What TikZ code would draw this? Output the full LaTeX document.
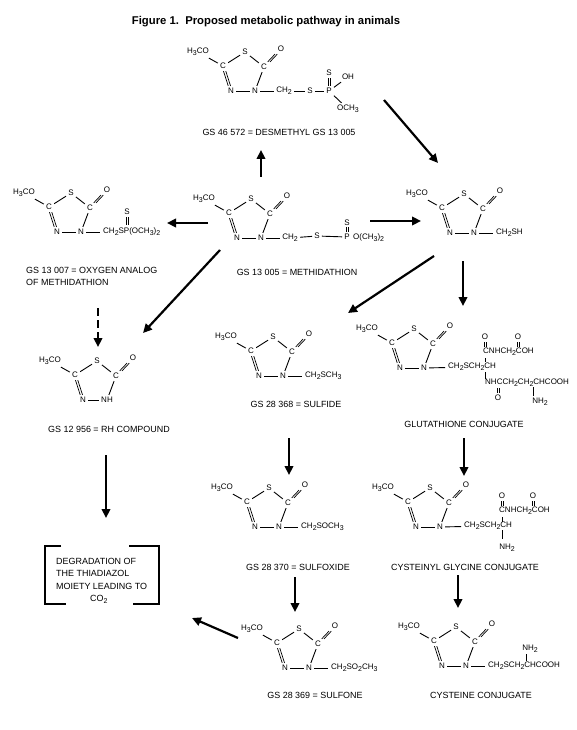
\documentclass[tikz,border=0pt]{standalone}
\usepackage{fontspec}
\setmainfont{Liberation Sans}
\usetikzlibrary{arrows.meta, positioning}
\newcommand{\low}[1]{\raisebox{-2pt}{\fontsize{7}{8}\selectfont #1}}
\newcommand{\dblbond}[2]{
  \draw[line width=0.7pt, transform canvas={xshift=-1.15pt}] (#1) -- (#2);
  \draw[line width=0.7pt, transform canvas={xshift=1.15pt}] (#1) -- (#2);
}
\begin{document}
\begin{tikzpicture}[
    x=1pt, y=-1pt,
    atom/.style={inner sep=2.1pt, font=\fontsize{8}{9}\selectfont},
    chain/.style={atom, anchor=west, inner ysep=0pt, inner xsep=3pt, xshift=-3pt},
    caption/.style={inner sep=0pt, font=\fontsize{8.95}{12.5}\selectfont},
    bond/.style={line width=0.9pt},
    arr/.style={-{Triangle[length=9pt, width=8.5pt]}, line width=2.2pt},
    ring/.pic={
      \node[atom] (-n) at (0,0) {#1};
      \node[atom] (-m) at (-24,0) {N};
      \node[atom] (-cl) at (-32,-25) {C};
      \node[atom] (-cr) at (9,-24) {C};
      \node[atom] (-s) at (-10,-39) {S};
      \node[atom] (-o) at (26,-42) {O};
      \node[atom] (-co) at (-57,-39) {H\low{3}CO};
      \draw[bond] (-co) -- (-cl);
      \draw[bond] (-cl) -- (-s);
      \draw[bond] (-s) -- (-cr);
      \dblbond{-cr}{-o}
      \draw[bond] (-cr) -- (-n);
      \dblbond{-cl}{-m}
      \draw[bond] (-m) -- (-n);
    }
  ]

  \useasboundingbox (0,0) rectangle (577,730);
  \fill[white] (0,0) rectangle (577,730);

  \node[inner sep=0pt, font=\bfseries\fontsize{11.3}{13}\selectfont] (title) at (266,22)
    {Figure 1.\ \ Proposed metabolic pathway in animals};

  \pic (a) at (255,91) {ring=N};
  \node[atom] (ach) at (284,91) {CH\low{2}};
  \node[atom] (as) at (310,91) {S};
  \node[atom] (ap) at (329,91) {P};
  \node[atom] (ats) at (329,73) {S};
  \node[atom] (aoh) at (348,77) {OH};
  \node[atom] (aome) at (348,109) {OCH\low{3}};
  \draw[bond] (a-n) -- (ach);
  \draw[bond] (ach) -- (as);
  \draw[bond] (as) -- (ap);
  \dblbond{ap}{ats}
  \draw[bond] (ap) -- (aoh);
  \draw[bond] (ap) -- (aome);
  \node[caption] (alabel) at (279,132) {GS 46 572 = DESMETHYL GS 13 005};

  \pic (b) at (261,238) {ring=N};
  \node[atom] (bch) at (290,238) {CH\low{2}};
  \node[atom] (bs) at (317,236) {S};
  \node[atom] (bp) at (347,237) {P};
  \node[atom, inner sep=1pt] (bts) at (347,223) {S};
  \node[chain] (bome) at (353,238) {O(CH\low{3})\low{2}};
  \draw[bond] (b-n) -- (bch);
  \draw[bond] (bch) -- (bs);
  \draw[bond] (bs) -- (bp);
  \dblbond{bp}{bts}
  \node[caption] (blabel) at (297,272) {GS 13 005 = METHIDATHION};

  \pic (c) at (81,232) {ring=N};
  \node[chain] (cch) at (103,232) {CH\low{2}SP(OCH\low{3})\low{2}};
  \node[atom] (cts) at (127,212) {S};
  \coordinate (cp) at (127,225);
  \draw[bond] (c-n) -- (cch);
  \dblbond{cts}{cp}
  \node[caption, align=left, anchor=west] (clabel) at (26,276.5) {GS 13 007 = OXYGEN ANALOG\\OF METHIDATHION};

  \pic (d) at (474,233) {ring=N};
  \node[chain] (dch) at (496,233) {CH\low{2}SH};
  \draw[bond] (d-n) -- (dch);

  \pic (e) at (107,400) {ring=NH};
  \node[caption] (elabel) at (109,429) {GS 12 956 = RH COMPOUND};

  \pic (f) at (283,376) {ring=N};
  \node[chain] (fch) at (305,376) {CH\low{2}SCH\low{3}};
  \draw[bond] (f-n) -- (fch);
  \node[caption] (flabel) at (296,404) {GS 28 368 = SULFIDE};

  \pic (g) at (424,368) {ring=N};
  \node[chain] (gch) at (448,367) {CH\low{2}SCH\low{2}CH};
  \node[chain] (gup) at (483,352) {CNHCH\low{2}COH};
  \node[chain] (gdown) at (485,383) {NHCCH\low{2}CH\low{2}CHCOOH};
  \node[atom] (gox) at (485,337) {O};
  \node[atom] (goy) at (518,337) {O};
  \node[atom] (goz) at (498,398) {O};
  \node[atom] (gnh) at (540,402) {NH\low{2}};
  \coordinate (gc) at (485,347);
  \coordinate (gd) at (518,347);
  \coordinate (ge) at (498,388);
  \coordinate (gf) at (533,387);
  \coordinate (gg) at (533,396);
  \coordinate (gh) at (485,358);
  \coordinate (gi) at (485,362);
  \coordinate (gj) at (485,372);
  \coordinate (gk) at (485,379);
  \draw[bond] (g-n) -- (gch);
  \dblbond{gox}{gc}
  \dblbond{goy}{gd}
  \dblbond{goz}{ge}
  \draw[bond] (gf) -- (gg);
  \draw[bond] (gh) -- (gi);
  \draw[bond] (gj) -- (gk);
  \node[caption] (glabel) at (464,424) {GLUTATHIONE CONJUGATE};

  \pic (h) at (279,527) {ring=N};
  \node[chain] (hch) at (301,527) {CH\low{2}SOCH\low{3}};
  \draw[bond] (h-n) -- (hch);
  \node[caption] (hlabel) at (298,567) {GS 28 370 = SULFOXIDE};

  \pic (i) at (440,527) {ring=N};
  \node[chain] (ich) at (464,526) {CH\low{2}SCH\low{2}CH};
  \node[chain] (iup) at (499,511) {CNHCH\low{2}COH};
  \node[atom] (iox) at (502,496) {O};
  \node[atom] (ioy) at (533,496) {O};
  \node[atom] (inh) at (507,548) {NH\low{2}};
  \coordinate (ic) at (502,506);
  \coordinate (id) at (533,506);
  \coordinate (ie) at (502,517);
  \coordinate (if) at (502,522);
  \coordinate (ig) at (502,530);
  \coordinate (ih) at (502,539);
  \draw[bond] (i-n) -- (ich);
  \dblbond{iox}{ic}
  \dblbond{ioy}{id}
  \draw[bond] (ie) -- (if);
  \draw[bond] (ig) -- (ih);
  \node[caption] (ilabel) at (465,567) {CYSTEINYL GLYCINE CONJUGATE};

  \pic (j) at (309,668) {ring=N};
  \node[chain] (jch) at (331,668) {CH\low{2}SO\low{2}CH\low{3}};
  \draw[bond] (j-n) -- (jch);
  \node[caption] (jlabel) at (315,695) {GS 28 369 = SULFONE};

  \pic (k) at (466,666) {ring=N};
  \node[chain] (kch) at (488,666) {CH\low{2}SCH\low{2}CHCOOH};
  \node[atom, inner sep=1pt] (knh) at (530,649) {NH\low{2}};
  \coordinate (kc) at (526,654);
  \coordinate (kd) at (526,661);
  \draw[bond] (k-n) -- (kch);
  \draw[bond] (kc) -- (kd);
  \node[caption] (klabel) at (481,695) {CYSTEINE CONJUGATE};

  \node[caption, align=left, anchor=north west] (deg) at (56,558)
    {DEGRADATION OF\\THE THIADIAZOL\\MOIETY LEADING TO\\\hspace{34pt}CO\low{2}};
  \draw[line width=1.8pt] (61,546) -- (45,546) -- (45,604) -- (66,604);
  \draw[line width=1.8pt] (129,546) -- (159,546) -- (159,604) -- (133,604);

  \coordinate (bup) at (261,177);
  \coordinate (atop) at (261,150);
  \coordinate (aout) at (384,100);
  \coordinate (din) at (438,163);
  \coordinate (bleft) at (208,223);
  \coordinate (cin) at (167,223);
  \coordinate (bright) at (370,221);
  \coordinate (dleft) at (421,221);
  \coordinate (bdiag) at (220,250);
  \coordinate (ein) at (143,333);
  \coordinate (cout) at (98,308);
  \coordinate (etop) at (98,347);
  \coordinate (eout) at (106,455);
  \coordinate (degtop) at (106,518);
  \coordinate (ddiag) at (434,256);
  \coordinate (fin) at (348,313);
  \coordinate (dout) at (463,261);
  \coordinate (gin) at (463,306);
  \coordinate (fout) at (289,438);
  \coordinate (htop) at (289,475);
  \coordinate (gout) at (464,438);
  \coordinate (itop) at (464,476);
  \coordinate (hout) at (295,577);
  \coordinate (jtop) at (295,612);
  \coordinate (iout) at (458,575);
  \coordinate (ktop) at (458,608);
  \coordinate (jout) at (238,638);
  \coordinate (degin) at (192,618);

  \draw[arr] (bup) -- (atop);
  \draw[arr] (aout) -- (din);
  \draw[arr] (bleft) -- (cin);
  \draw[arr] (bright) -- (dleft);
  \draw[arr] (bdiag) -- (ein);
  \draw[arr, dash pattern=on 8pt off 4pt] (cout) -- (etop);
  \draw[arr] (eout) -- (degtop);
  \draw[arr] (ddiag) -- (fin);
  \draw[arr] (dout) -- (gin);
  \draw[arr] (fout) -- (htop);
  \draw[arr] (gout) -- (itop);
  \draw[arr] (hout) -- (jtop);
  \draw[arr] (iout) -- (ktop);
  \draw[arr] (jout) -- (degin);

\end{tikzpicture}
\end{document}
